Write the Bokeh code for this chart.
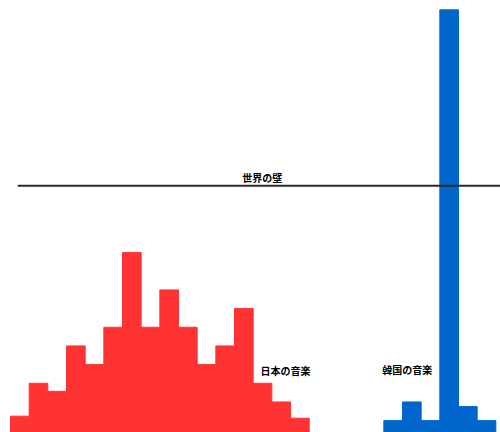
from bokeh.plotting import figure
from bokeh.models import ColumnDataSource, Range1d
from bokeh.core.properties import value
from bokeh.embed import file_html
from bokeh.resources import INLINE

# Data
japan_values = [1.24, 3.0, 2.57, 5.0, 4.0, 6.0, 10.0, 6.0, 8.0, 6.0, 4.0, 5.0, 7.0, 3.0, 2.0, 1.13]
korea_values = [1.0, 2.0, 1.0, 23.0, 1.75, 1.0]
korea_start = 20
wall_level = 13.58
labels = ["日本の音楽", "韓国の音楽", "世界の壁"]

jp_src = ColumnDataSource(dict(
    left=list(range(len(japan_values))),
    right=[i + 1 for i in range(len(japan_values))],
    top=japan_values,
    bottom=[0] * len(japan_values),
))
kr_src = ColumnDataSource(dict(
    left=[korea_start + i for i in range(len(korea_values))],
    right=[korea_start + i + 1 for i in range(len(korea_values))],
    top=korea_values,
    bottom=[0] * len(korea_values),
))

p = figure(width=500, height=432, output_backend="svg", toolbar_location=None,
           x_axis_type=None, y_axis_type=None, min_border=0,
           x_range=Range1d(-0.536, 26.25), y_range=Range1d(0.364, 23.50))
p.outline_line_color = None
p.grid.visible = False
p.background_fill_color = "white"
p.border_fill_color = "white"

p.quad(left="left", right="right", top="top", bottom="bottom", source=jp_src,
       fill_color="#ff3333", line_color="#ff3333", line_width=1)
p.quad(left="left", right="right", top="top", bottom="bottom", source=kr_src,
       fill_color="#0066cc", line_color="#0066cc", line_width=1)

p.segment(x0=[0.39], y0=[wall_level], x1=[27], y1=[wall_level], line_color="#2a2a2a", line_width=2)

font = value("Noto Sans CJK JP")
p.text(x=[13.39], y=[3.69], text=[labels[0]], text_font=font, text_font_size="10px",
       text_font_style="bold", text_align="left", text_baseline="middle", text_color="#000000")
p.text(x=[19.91], y=[3.72], text=[labels[1]], text_font=font, text_font_size="10px",
       text_font_style="bold", text_align="left", text_baseline="middle", text_color="#000000")
p.text(x=[13.48], y=[14.04], text=[labels[2]], text_font=font, text_font_size="10px",
       text_font_style="bold", text_align="center", text_baseline="middle", text_color="#000000")

open("out.html", "w").write(file_html(p, INLINE))
